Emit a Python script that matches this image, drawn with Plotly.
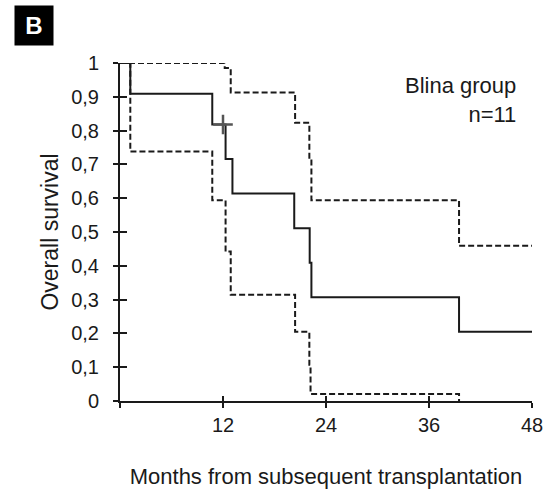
import plotly.graph_objects as go

# Kaplan-Meier estimate (step points, "hv")
km_months = [0, 1.2, 10.75, 12.3, 13.1, 20.3, 22.1, 22.3, 39.5, 48]
km_surv = [1.0, 0.909, 0.818, 0.716, 0.614, 0.511, 0.409, 0.307, 0.205, 0.205]

# Upper 95% CI
up_months = [0, 12.2, 12.9, 20.4, 22.06, 22.3, 39.5, 48]
up_surv = [1.0, 0.985, 0.913, 0.823, 0.72, 0.594, 0.459, 0.459]

# Lower 95% CI
lo_months = [0, 1.2, 10.75, 12.3, 12.9, 20.4, 22.06, 22.2, 39.5]
lo_surv = [1.0, 0.738, 0.594, 0.442, 0.314, 0.205, 0.107, 0.021, 0.0]

# Censored observation
cens_months = [12.0]
cens_surv = [0.818]

x_ticks = [0, 12, 24, 36, 48]
x_ticktext = ["", "12", "24", "36", "48"]
y_ticks = [0, 0.1, 0.2, 0.3, 0.4, 0.5, 0.6, 0.7, 0.8, 0.9, 1.0]
y_ticktext = ["0", "0,1", "0,2", "0,3", "0,4", "0,5", "0,6", "0,7", "0,8", "0,9", "1"]

INK = "#1a1a1a"
FONT = "Liberation Sans, Arial, sans-serif"

fig = go.Figure()
fig.add_trace(go.Scatter(x=up_months, y=up_surv, mode="lines", line_shape="hv",
                         line=dict(color=INK, width=2, dash="6px,3px"), cliponaxis=False,
                         showlegend=False, hoverinfo="skip"))
fig.add_trace(go.Scatter(x=lo_months, y=lo_surv, mode="lines", line_shape="hv",
                         line=dict(color=INK, width=2, dash="6px,3px"), cliponaxis=False,
                         showlegend=False, hoverinfo="skip"))
fig.add_trace(go.Scatter(x=km_months, y=km_surv, mode="lines", line_shape="hv",
                         line=dict(color=INK, width=2), cliponaxis=False,
                         showlegend=False))
fig.add_trace(go.Scatter(x=cens_months, y=cens_surv, mode="markers",
                         marker=dict(symbol="cross-thin", size=14,
                                     line=dict(color="#555555", width=2.5)),
                         cliponaxis=False, showlegend=False))
# dummy trace to activate the inside-tick axes
fig.add_trace(go.Scatter(x=[None], y=[None], xaxis="x2", yaxis="y2", showlegend=False))

fig.update_layout(
    width=547, height=489,
    margin=dict(l=120, r=15, t=63, b=88, autoexpand=False),
    paper_bgcolor="white", plot_bgcolor="white",
    font=dict(family=FONT, size=20, color=INK),
    xaxis=dict(range=[0, 48], tickvals=x_ticks, ticktext=x_ticktext,
               ticks="outside", ticklen=5, tickwidth=1.5, tickcolor=INK,
               showline=True, linecolor=INK, linewidth=2, showgrid=False,
               zeroline=False, tickfont=dict(size=20), ticklabelstandoff=0,
               title=dict(text="Months from subsequent transplantation",
                          font=dict(size=22), standoff=36)),
    yaxis=dict(range=[0, 1], tickvals=y_ticks, ticktext=y_ticktext,
               ticks="outside", ticklen=5, tickwidth=1.5, tickcolor=INK,
               showline=True, linecolor=INK, linewidth=2, showgrid=False,
               zeroline=False, tickfont=dict(size=20), ticklabelstandoff=10,
               title=dict(text="Overall survival", font=dict(size=23), standoff=6)),
    xaxis2=dict(range=[0, 48], tickvals=x_ticks, overlaying="x", side="bottom",
                ticks="inside", ticklen=5, tickwidth=1.5, tickcolor=INK,
                showticklabels=False, showgrid=False, zeroline=False, showline=False),
    yaxis2=dict(range=[0, 1], tickvals=y_ticks, overlaying="y", side="left",
                ticks="inside", ticklen=7, tickwidth=1.5, tickcolor=INK,
                showticklabels=False, showgrid=False, zeroline=False, showline=False),
    annotations=[
        dict(text="Blina group<br>n=11", xref="paper", yref="paper", x=0.966, y=0.975,
             xanchor="right", yanchor="top", align="right", showarrow=False,
             font=dict(size=22, color=INK)),
        dict(text="<b>B</b>", xref="paper", yref="paper", x=(34 - 120) / 412,
             y=(401 - 25.5) / 338, xanchor="center", yanchor="middle", showarrow=False,
             bgcolor="black", font=dict(size=24, color="white", family=FONT),
             width=36, height=37),
    ],
)

fig.write_html("out.html", config={"displayModeBar": False},
               post_script="document.body.style.margin='0';")
